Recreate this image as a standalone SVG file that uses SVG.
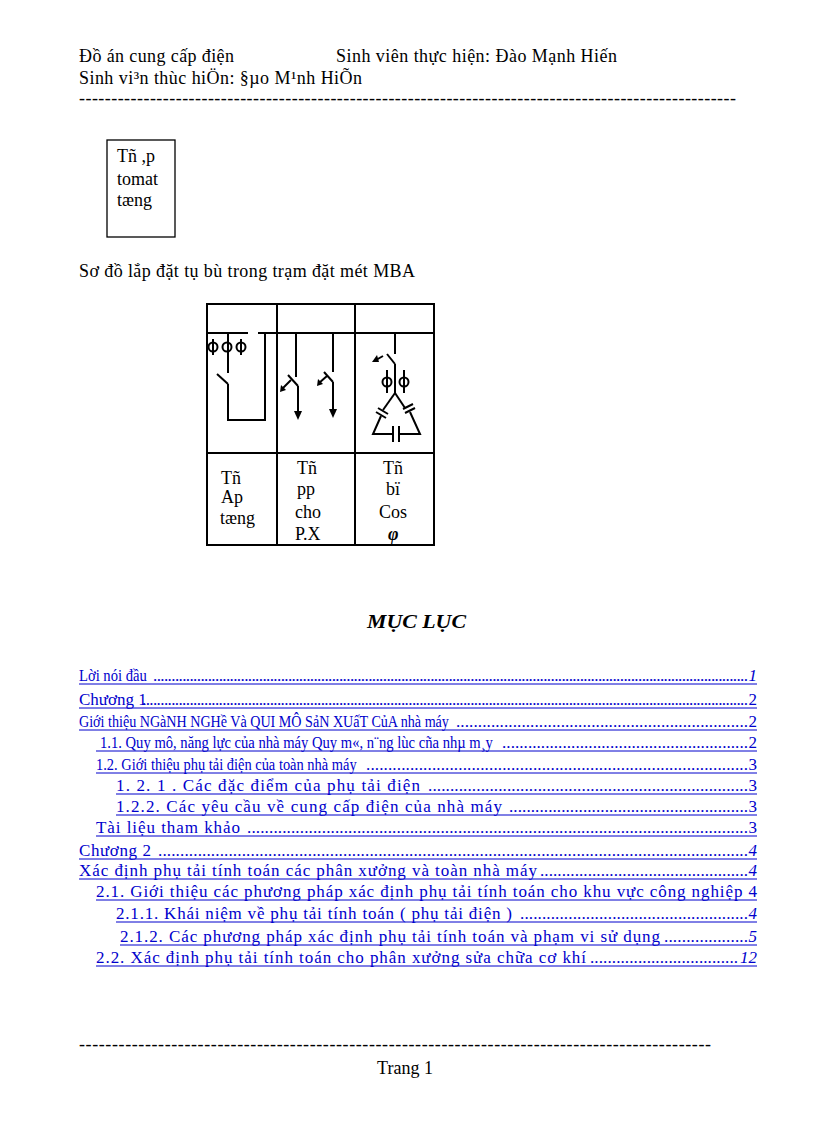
<svg xmlns="http://www.w3.org/2000/svg" width="816" height="1123" viewBox="0 0 816 1123">
<style>
text{font-family:"Liberation Serif",serif;font-size:18px;fill:#000}
.t{fill:#0000cc;font-size:17px}
.u{stroke:#0000cc;stroke-width:1}
.s{stroke:#000;stroke-width:2;fill:none}
.th{stroke:#000;stroke-width:1.3;fill:none}
</style>
<rect width="816" height="1123" fill="#fff"/>
<g id="header">
<text x="79" y="62" textLength="155" lengthAdjust="spacing">Đồ án cung cấp điện</text>
<text x="336" y="62" textLength="281" lengthAdjust="spacing">Sinh viên thực hiện: Đào Mạnh Hiến</text>
<text x="79" y="84" textLength="283" lengthAdjust="spacing">Sinh vi³n thùc hiÖn: §µo M¹nh HiÕn</text>
<text x="79" y="104" textLength="657" lengthAdjust="spacing">------------------------------------------------------------------------------------------------------</text>
</g>
<g id="box1">
<rect x="107" y="140" width="68" height="97" class="th"/>
<text x="117" y="162">Tñ ,p</text>
<text x="117" y="185">tomat</text>
<text x="117" y="206">tæng</text>
</g>
<text x="79" y="277" textLength="336" lengthAdjust="spacing">Sơ đồ lắp đặt tụ bù trong trạm đặt mét MBA</text>
<g id="table">
<rect x="207" y="304" width="227" height="241" class="s"/>
<line x1="277" y1="304" x2="277" y2="545" class="s"/>
<line x1="355" y1="304" x2="355" y2="545" class="s"/>
<line x1="207" y1="333" x2="248" y2="333" class="s"/>
<line x1="258" y1="333" x2="434" y2="333" class="s"/>
<line x1="207" y1="453" x2="434" y2="453" class="s"/>
</g>
<g id="col1">
<line x1="228" y1="333" x2="228" y2="373" class="s"/>
<circle cx="213" cy="347" r="4.5" class="s"/><line x1="213" y1="339" x2="213" y2="355" class="s"/>
<circle cx="227" cy="347" r="4.5" class="s"/>
<circle cx="241" cy="347" r="4.5" class="s"/><line x1="241" y1="339" x2="241" y2="355" class="s"/>
<line x1="217" y1="374" x2="228" y2="384" class="s"/>
<polyline points="228,384 228,420 265,420 265,333" class="s"/>
</g>
<g id="col2">
<line x1="296" y1="333" x2="296" y2="377" class="s"/>
<line x1="288" y1="375" x2="298" y2="386" class="s"/>
<line x1="298" y1="386" x2="298" y2="412" class="s"/>
<polygon points="294,411 302,411 298,420" fill="#000"/>
<line x1="291" y1="380" x2="282" y2="389" class="s"/>
<polygon points="280,392 281,385 286,390" fill="#000"/>
<line x1="333" y1="333" x2="333" y2="372" class="s"/>
<line x1="324" y1="372" x2="333" y2="382" class="s"/>
<line x1="333" y1="382" x2="333" y2="410" class="s"/>
<polygon points="329,409 337,409 333,418" fill="#000"/>
<line x1="327" y1="376" x2="319" y2="383" class="s"/>
<polygon points="317,386 318,379 323,384" fill="#000"/>
</g>
<g id="col3">
<line x1="395" y1="333" x2="395" y2="354" class="s"/>
<line x1="387" y1="354" x2="395" y2="364" class="s"/>
<line x1="383" y1="356" x2="376" y2="360" class="s"/>
<polygon points="372,362 377,355 379,362" fill="#000"/>
<line x1="395" y1="364" x2="395" y2="393" class="s"/>
<line x1="387" y1="370" x2="387" y2="393" class="s"/>
<circle cx="387" cy="382" r="4.5" class="s"/>
<line x1="404" y1="370" x2="404" y2="393" class="s"/>
<circle cx="404" cy="382" r="4.5" class="s"/>
<line x1="395" y1="393" x2="383" y2="410" class="s"/>
<line x1="395" y1="393" x2="405" y2="408" class="s"/>
<line x1="378" y1="408" x2="388" y2="414" class="s"/>
<line x1="376" y1="412" x2="386" y2="418" class="s"/>
<line x1="403" y1="409" x2="413" y2="404" class="s"/>
<line x1="405" y1="413" x2="415" y2="408" class="s"/>
<polyline points="381,416 373,434 393,434" class="s"/>
<polyline points="410,412 420,434 399,434" class="s"/>
<line x1="393" y1="426" x2="393" y2="442" class="s"/>
<line x1="399" y1="426" x2="399" y2="442" class="s"/>
</g>
<g id="labels">
<text x="221" y="484">Tñ</text><text x="221" y="503">Ap</text><text x="220" y="524">tæng</text>
<text x="297" y="474">Tñ</text><text x="297" y="495">pp</text><text x="295" y="518">cho</text><text x="295" y="540">P.X</text>
<text x="383" y="474">Tñ</text><text x="386" y="495">bï</text><text x="379" y="518">Cos</text>
<text x="388" y="540" font-style="italic" font-weight="bold" font-size="15">φ</text>
</g>
<text x="367" y="628" textLength="99" lengthAdjust="spacingAndGlyphs" font-size="21" font-weight="bold" font-style="italic">MỤC LỤC</text>
<g id="toc">
<text class="t" transform="translate(79,681) scale(0.86,1)">Lời nói đầu</text><text class="t" x="153" y="681" textLength="595" lengthAdjust="spacing">...................................................................................................................................................................</text><text class="t" x="757" y="681" text-anchor="end" font-style="italic">1</text><line class="u" x1="79" y1="684" x2="757" y2="684"/>
<text class="t" x="79" y="705">Chương 1</text><text class="t" x="142" y="705" textLength="606" lengthAdjust="spacing">......................................................................................................................................................................</text><text class="t" x="757" y="705" text-anchor="end">2</text><line class="u" x1="79" y1="708" x2="757" y2="708"/>
<text class="t" transform="translate(79,727) scale(0.83,1)">Giới thiệu NGàNH NGHề Và QUI MÔ SảN XUấT CủA nhà máy</text><text class="t" x="456" y="727" textLength="292" lengthAdjust="spacing">...................................................................</text><text class="t" x="757" y="727" text-anchor="end">2</text><line class="u" x1="79" y1="730" x2="757" y2="730"/>
<text class="t" transform="translate(100,748) scale(0.86,1)">1.1.   Quy mô, năng lực của nhà máy    Quy m«, n¨ng lùc cña nhµ m¸y</text><text class="t" x="502" y="748" textLength="246" lengthAdjust="spacing">.........................................................</text><text class="t" x="757" y="748" text-anchor="end">2</text><line class="u" x1="96" y1="751" x2="757" y2="751"/>
<text class="t" transform="translate(96,770) scale(0.85,1)">1.2.   Giới thiệu phụ tải điện của toàn nhà máy</text><text class="t" x="366" y="770" textLength="382" lengthAdjust="spacing">.......................................................................................</text><text class="t" x="757" y="770" text-anchor="end">3</text><line class="u" x1="96" y1="773" x2="757" y2="773"/>
<text class="t" x="116" y="791" textLength="304" lengthAdjust="spacing">1. 2. 1 .   Các đặc điểm của phụ tải điện</text><text class="t" x="428" y="791" textLength="320" lengthAdjust="spacing">.........................................................................</text><text class="t" x="757" y="791" text-anchor="end">3</text><line class="u" x1="116" y1="794" x2="757" y2="794"/>
<text class="t" x="116" y="812" textLength="386" lengthAdjust="spacing">1.2.2.   Các yêu cầu về cung cấp điện của nhà máy</text><text class="t" x="509" y="812" textLength="239" lengthAdjust="spacing">.......................................................</text><text class="t" x="757" y="812" text-anchor="end">3</text><line class="u" x1="116" y1="815" x2="757" y2="815"/>
<text class="t" x="96" y="833" textLength="144" lengthAdjust="spacing">Tài liệu tham khảo</text><text class="t" x="247" y="833" textLength="501" lengthAdjust="spacing">..................................................................................................................</text><text class="t" x="757" y="833" text-anchor="end">3</text><line class="u" x1="96" y1="836" x2="757" y2="836"/>
<text class="t" x="79" y="856" textLength="72" lengthAdjust="spacing">Chương 2</text><text class="t" x="158" y="856" textLength="590" lengthAdjust="spacing">......................................................................................................................................</text><text class="t" x="757" y="856" text-anchor="end" font-style="italic">4</text><line class="u" x1="79" y1="859" x2="757" y2="859"/>
<text class="t" x="79" y="876" textLength="458" lengthAdjust="spacing">Xác định phụ tải tính toán các phân xưởng và toàn nhà máy</text><text class="t" x="540" y="876" textLength="208" lengthAdjust="spacing">................................................</text><text class="t" x="757" y="876" text-anchor="end" font-style="italic">4</text><line class="u" x1="79" y1="879" x2="757" y2="879"/>
<text class="t" x="96" y="897" textLength="661" lengthAdjust="spacing">2.1. Giới thiệu  các phương pháp xác định phụ tải tính toán cho khu vực công nghiệp  4</text><line class="u" x1="96" y1="900" x2="757" y2="900"/>
<text class="t" x="116" y="919" textLength="396" lengthAdjust="spacing">2.1.1. Khái niệm  về phụ tải tính toán ( phụ tải điện )</text><text class="t" x="520" y="919" textLength="228" lengthAdjust="spacing">....................................................</text><text class="t" x="757" y="919" text-anchor="end" font-style="italic">4</text><line class="u" x1="116" y1="922" x2="757" y2="922"/>
<text class="t" x="120" y="942" textLength="540" lengthAdjust="spacing">2.1.2. Các phương pháp xác định phụ tải tính toán và phạm vi sử dụng</text><text class="t" x="664" y="942" textLength="84" lengthAdjust="spacing">...................</text><text class="t" x="757" y="942" text-anchor="end" font-style="italic">5</text><line class="u" x1="120" y1="945" x2="757" y2="945"/>
<text class="t" x="96" y="963" textLength="490" lengthAdjust="spacing">2.2. Xác định phụ tải tính toán cho phân xưởng sửa chữa cơ khí</text><text class="t" x="590" y="963" textLength="148" lengthAdjust="spacing">..................................</text><text class="t" x="757" y="963" text-anchor="end" font-style="italic">12</text><line class="u" x1="96" y1="966" x2="757" y2="966"/>
</g>
<g id="footer">
<text x="79" y="1050" textLength="632" lengthAdjust="spacing">------------------------------------------------------------------------------------------------</text>
<text x="405" y="1074" text-anchor="middle">Trang 1</text>
</g>
</svg>
